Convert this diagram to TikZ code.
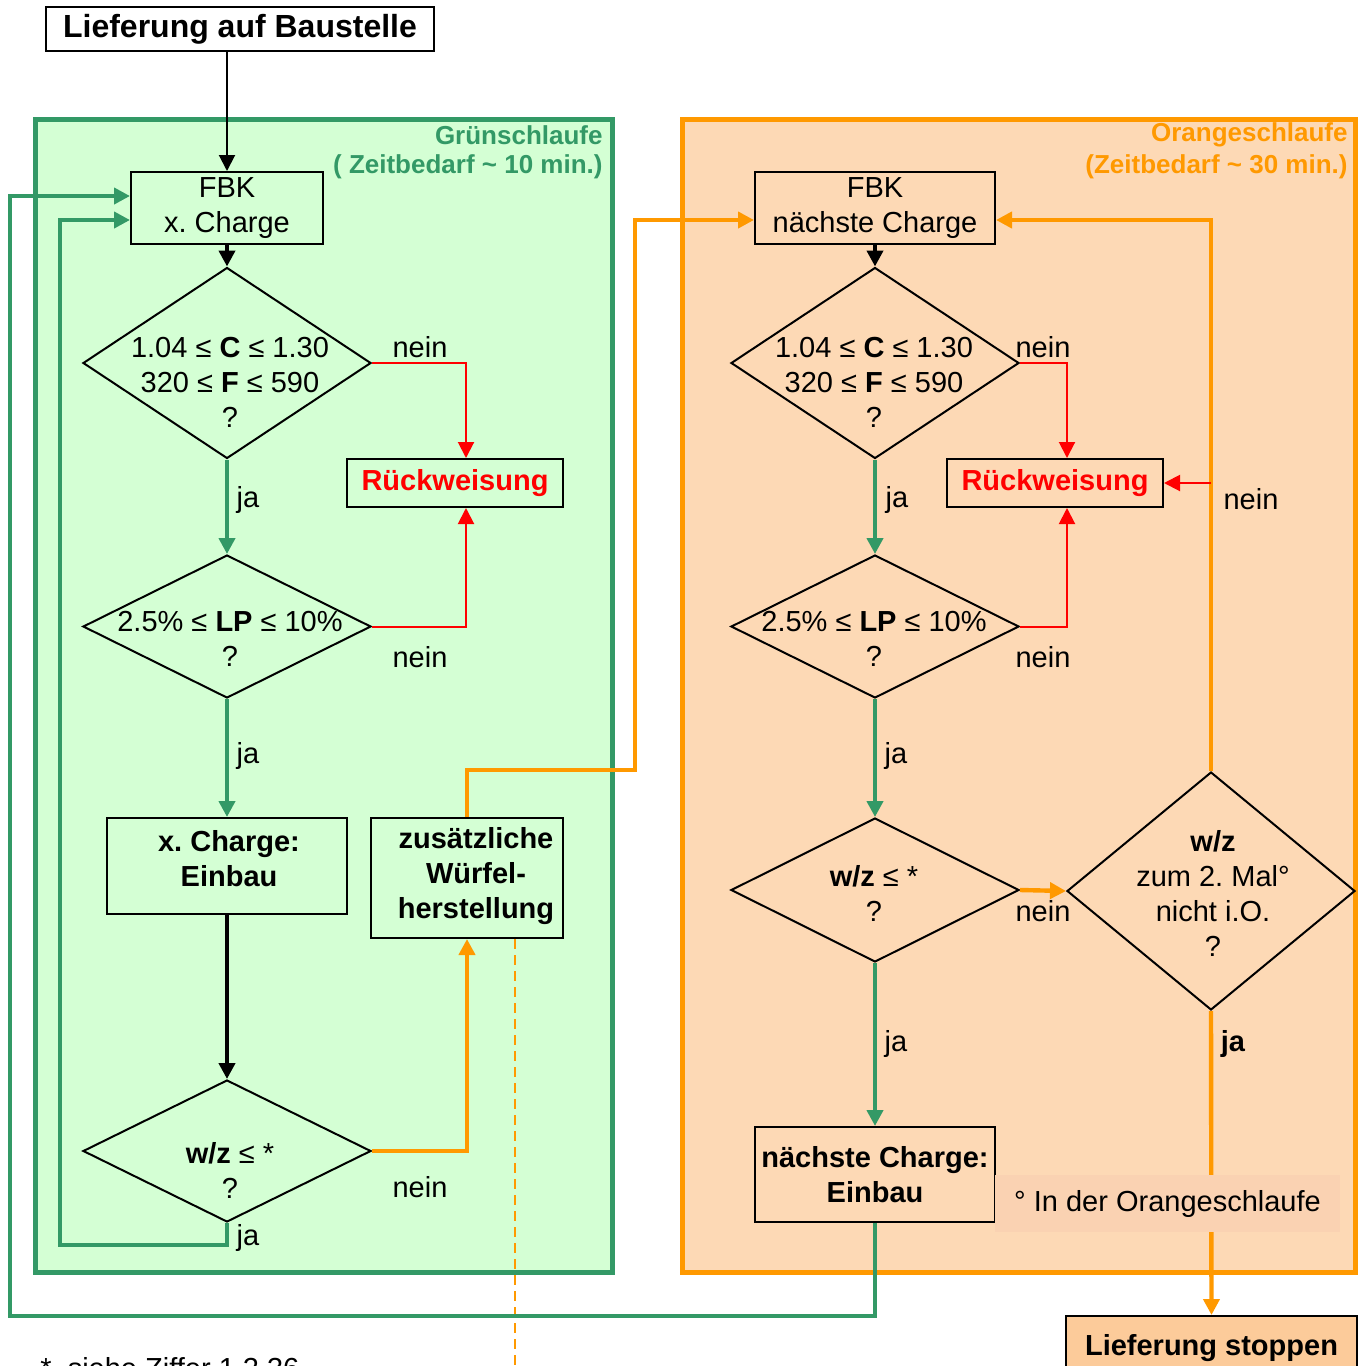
\documentclass[tikz,border=0pt]{standalone}
\usepackage{fontspec}
\setmainfont{Liberation Sans}
\usetikzlibrary{shapes.geometric, arrows.meta}
\frenchspacing
\definecolor{gruenfill}{HTML}{D4FFD4}
\definecolor{gruen}{HTML}{339966}
\definecolor{orangefill}{HTML}{FDD9B5}
\definecolor{orangelinie}{HTML}{FF9900}
\definecolor{notefill}{HTML}{FAD2B2}
\definecolor{stoppfill}{HTML}{FCCB9A}
\newcommand{\grund}{\fontsize{14.5}{17.5}\selectfont}
\newcommand{\grundfett}{\fontsize{14.5}{17.5}\selectfont\bfseries}
\tikzset{
    box/.style={draw, rectangle, line width=1pt, inner sep=0pt, align=center},
    entscheid/.style={draw, diamond, line width=1pt, inner sep=0pt, minimum width=144pt},
    txt/.style={inner sep=0pt, align=center},
    titel/.style={inner sep=0pt, anchor=east, font=\fontsize{13}{15}\selectfont\bfseries},
    pfeil/.style={-{Triangle[length=8pt, width=8pt]}},
    gruenpfeil/.style={pfeil, draw=gruen, line width=2.2pt},
    rotpfeil/.style={pfeil, draw=red, line width=1pt},
    orangepfeil/.style={pfeil, draw=orangelinie, line width=2.2pt},
    schwarzpfeil/.style={pfeil, draw=black, line width=2.2pt}
}

\begin{document}
\begin{tikzpicture}[x=0.5pt, y=-0.5pt, font=\grund]
    \useasboundingbox (0,0) rectangle (1358,1366);
    % Schlaufen
    \draw[gruen, fill=gruenfill, line width=2.5pt] (35,119) rectangle (612,1272);
    \draw[orangelinie, fill=orangefill, line width=2.5pt] (682,119) rectangle (1355,1272);
    \node[titel, text=gruen] (gtitel) at (603,135) {Grünschlaufe};
    \node[titel, text=gruen] (gzeit) at (603,167) {( Zeitbedarf \textasciitilde\ 10 min.)};
    \node[titel, text=orangelinie] (otitel) at (1348,135) {Orangeschlaufe};
    \node[titel, text=orangelinie] (ozeit) at (1348,167) {(Zeitbedarf \textasciitilde\ 30 min.)};

    % linke Spalte
    \node[box, fill=white, font=\fontsize{16}{19}\selectfont\bfseries, minimum width=194pt, minimum height=22pt] (start) at (240,29) {Lieferung auf Baustelle};
    \node[box, minimum width=96pt, minimum height=36pt] (fbk1) at (227,208) {FBK\\x. Charge};
    \node[entscheid, minimum height=95.5pt] (d1) at (227,363) {};
    \node[txt] (d1txt) at (230,382) {1.04 ≤ \textbf{C} ≤ 1.30\\320 ≤ \textbf{F} ≤ 590\\?};
    \node[box, text=red, font=\grundfett, minimum width=108pt, minimum height=24pt] (rueck1) at (455,483) {Rückweisung};
    \node[entscheid, minimum height=71.5pt] (d2) at (227,626.5) {};
    \node[txt] (d2txt) at (230,639) {2.5\% ≤ \textbf{LP} ≤ 10\%\\?};
    \node[box, minimum width=120pt, minimum height=48pt] (einbau1) at (227,866) {};
    \node[txt, font=\grundfett] (einbau1txt) at (229,859) {x. Charge:\\Einbau};
    \node[entscheid, minimum height=71pt] (d3) at (227,1151) {};
    \node[txt] (d3txt) at (230,1170) {\textbf{w/z} ≤ *\\?};
    \node[box, minimum width=96pt, minimum height=60pt] (zus) at (467,878) {};
    \node[txt, font=\grundfett] (zustxt) at (476,876) {zusätzliche\\Würfel-\\herstellung};

    % rechte Spalte
    \node[box, minimum width=120pt, minimum height=36pt] (fbk2) at (875,208) {FBK\\nächste Charge};
    \node[entscheid, minimum height=95.5pt] (r1) at (875,363) {};
    \node[txt] (r1txt) at (874,382) {1.04 ≤ \textbf{C} ≤ 1.30\\320 ≤ \textbf{F} ≤ 590\\?};
    \node[box, text=red, font=\grundfett, minimum width=108pt, minimum height=24pt] (rueck2) at (1055,483) {Rückweisung};
    \node[entscheid, minimum height=71.5pt] (r2) at (875,626.5) {};
    \node[txt] (r2txt) at (874,639) {2.5\% ≤ \textbf{LP} ≤ 10\%\\?};
    \node[entscheid, minimum height=72pt] (r3) at (875,890) {};
    \node[txt] (r3txt) at (874,893) {\textbf{w/z} ≤ *\\?};
    \node[entscheid, minimum height=119pt] (r4) at (1211,891) {};
    \node[txt] (r4txt) at (1213,893) {\textbf{w/z}\\zum 2. Mal°\\nicht i.O.\\?};
    \node[box, font=\grundfett, minimum width=120pt, minimum height=47.5pt] (einbau2) at (875,1174.5) {nächste Charge:\\Einbau};
    \node[box, fill=stoppfill, font=\grundfett, minimum width=145.5pt, minimum height=32pt] (stopp) at (1211.5,1348) {Lieferung stoppen};

    % Verbindungen links
    \draw[pfeil, line width=1pt] (start.south -| fbk1.north) -- (fbk1.north);
    \draw[schwarzpfeil] (fbk1.south) -- (d1.north);
    \draw[rotpfeil] (d1.east) -| ([xshift=5.5pt]rueck1.north);
    \draw[gruenpfeil] (d1.south) -- (d2.north);
    \draw[rotpfeil] (d2.east) -| ([xshift=5.5pt]rueck1.south);
    \draw[gruenpfeil] (d2.south) -- (einbau1.north);
    \draw[schwarzpfeil] (einbau1.south) -- (d3.north);
    \draw[orangepfeil] (d3.east) -| (zus.south);
    \draw[gruenpfeil] (d3.south) |- (60,1245) |- ([yshift=-6pt]fbk1.west);
    \draw[orangepfeil] (zus.north) |- (635,770) |- ([yshift=-6pt]fbk2.west);
    \coordinate (dashend) at (515,1380);
    \draw[orangelinie, line width=0.8pt, dash pattern=on 5pt off 3pt] ([xshift=24pt]zus.south) -- (dashend);
    \draw[gruenpfeil] (einbau2.south) |- (10,1316) |- ([yshift=6pt]fbk1.west);

    % Verbindungen rechts
    \draw[schwarzpfeil] (fbk2.south) -- (r1.north);
    \draw[rotpfeil] (r1.east) -| ([xshift=6pt]rueck2.north);
    \draw[gruenpfeil] (r1.south) -- (r2.north);
    \draw[rotpfeil] (r2.east) -| ([xshift=6pt]rueck2.south);
    \draw[gruenpfeil] (r2.south) -- (r3.north);
    \draw[orangepfeil] (r3.east) -- (r4.west);
    \draw[orangepfeil] (r4.north) |- ([yshift=-6pt]fbk2.east);
    \draw[rotpfeil] (r4.north |- rueck2.east) -- (rueck2.east);
    \draw[gruenpfeil] (r3.south) -- (einbau2.north);
    \draw[orangepfeil] (r4.south) -- (stopp.north);
    \node[fill=notefill, inner sep=0pt, minimum width=172.5pt, minimum height=28.5pt] (note) at (1167.5,1203.5) {° In der Orangeschlaufe};

    % Beschriftungen
    \node[txt] (nein1) at (420,347) {nein};
    \node[txt] (nein2) at (420,657) {nein};
    \node[txt] (nein3) at (420,1187) {nein};
    \node[txt] (nein4) at (1043,347) {nein};
    \node[txt] (nein5) at (1043,657) {nein};
    \node[txt] (nein6) at (1043,911) {nein};
    \node[txt] (nein7) at (1251,499) {nein};
    \node[txt] (ja1) at (248,500) {ja};
    \node[txt] (ja2) at (248,756) {ja};
    \node[txt] (ja3) at (248,1238) {ja};
    \node[txt] (ja4) at (897,500) {ja};
    \node[txt] (ja5) at (896,756) {ja};
    \node[txt] (ja6) at (896,1044) {ja};
    \node[txt, font=\grundfett] (ja7) at (1233,1044) {ja};
    \node[anchor=base west, inner sep=0pt] (fussnote) at (40,1378) {*\ \ siehe Ziffer 1.2.36};
\end{tikzpicture}
\end{document}
